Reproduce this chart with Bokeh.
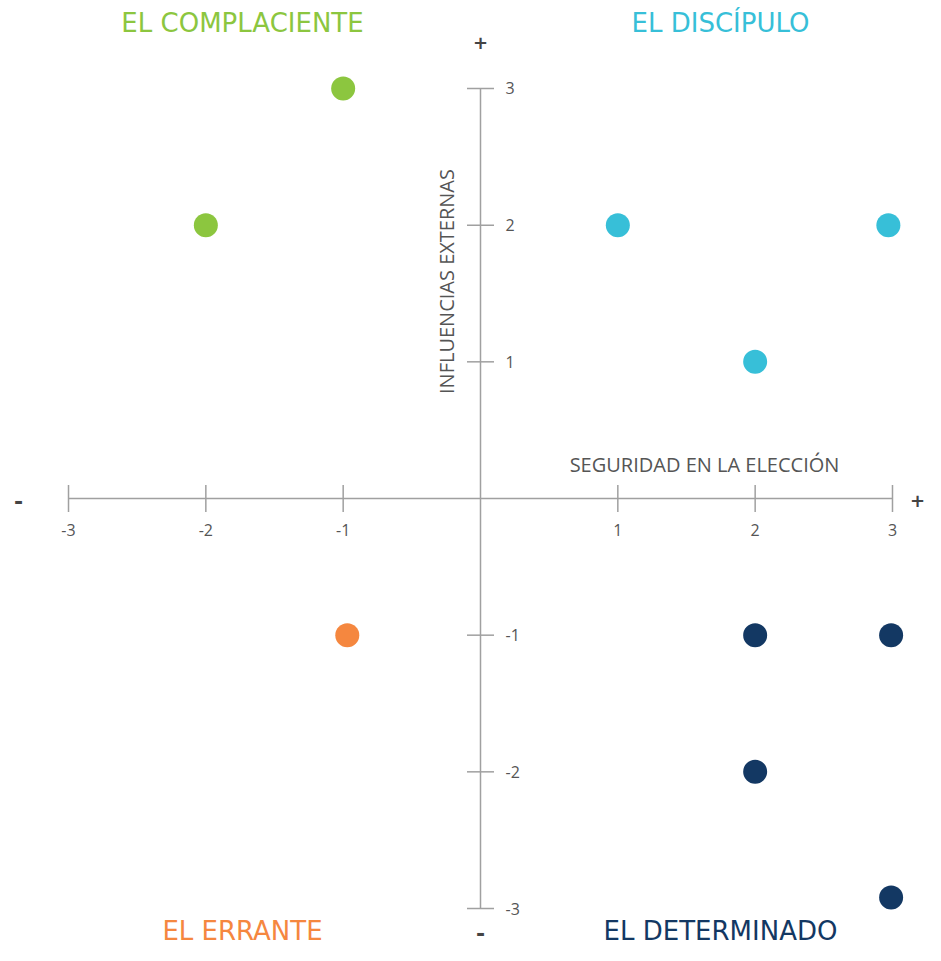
import math
from bokeh.plotting import figure
from bokeh.models import Range1d, ColumnDataSource, Label
from bokeh.core.properties import value
from bokeh.embed import file_html
from bokeh.resources import INLINE

# ---- data ----
ticks = [-3, -2, -1, 1, 2, 3]
tick_labels = ["-3", "-2", "-1", "1", "2", "3"]

complaciente_x = [-1, -2]
complaciente_y = [3, 2]
discipulo_x = [1, 2.97, 2]
discipulo_y = [2, 2, 1]
errante_x = [-0.97]
errante_y = [-1]
determinado_x = [2, 2.99, 2, 2.99]
determinado_y = [-1, -1, -2, -2.92]

quadrant_names = ["EL COMPLACIENTE", "EL DISCÍPULO", "EL ERRANTE", "EL DETERMINADO"]
x_title = "SEGURIDAD EN LA ELECCIÓN"
y_title = "INFLUENCIAS EXTERNAS"

GREEN = "#8cc63f"
CYAN = "#37bfd8"
ORANGE = "#f5873f"
NAVY = "#133863"
AXIS = "#a0a0a0"
TXT = "#555555"

W, H = 925, 945
X0, Y0, SX, SY = 480, 498, 137.33, 136.67
xs, xe = -X0 / SX, (W - X0) / SX
ys, ye = -(H - Y0) / SY, Y0 / SY

p = figure(width=W, height=H, x_range=Range1d(xs, xe), y_range=Range1d(ys, ye),
           x_axis_type=None, y_axis_type=None, output_backend="svg",
           toolbar_location=None, min_border=0)
p.grid.visible = False
p.outline_line_color = None
p.background_fill_color = "white"


def dx(px):
    return xs + px / W * (xe - xs)


def dy(py):
    return ye - py / H * (ye - ys)


# axes lines
p.segment(x0=[ticks[0]], y0=[0], x1=[ticks[-1]], y1=[0], line_color=AXIS, line_width=1.5)
p.segment(x0=[0], y0=[ticks[0]], x1=[0], y1=[ticks[-1]], line_color=AXIS, line_width=1.5)

# tick marks
p.scatter(x=ticks, y=[0] * len(ticks), marker="dash", size=27, angle=math.pi / 2,
          line_color=AXIS, line_width=1.5)
p.scatter(x=[0] * len(ticks), y=ticks, marker="dash", size=27,
          line_color=AXIS, line_width=1.5)

# tick labels
xt = ColumnDataSource(dict(x=ticks, y=[0] * len(ticks), t=tick_labels))
p.text(x="x", y="y", text="t", source=xt, y_offset=31, text_align="center",
       text_baseline="middle", text_font=value("Open Sans"), text_font_size="16px",
       text_color=TXT)
yt = ColumnDataSource(dict(x=[0] * len(ticks), y=ticks, t=tick_labels))
p.text(x="x", y="y", text="t", source=yt, x_offset=25, text_align="left",
       text_baseline="middle", text_font=value("Open Sans"), text_font_size="16px",
       text_color=TXT)

# points
p.scatter(complaciente_x, complaciente_y, size=24, fill_color=GREEN, line_color=None)
p.scatter(discipulo_x, discipulo_y, size=24, fill_color=CYAN, line_color=None)
p.scatter(errante_x, errante_y, size=24, fill_color=ORANGE, line_color=None)
p.scatter(determinado_x, determinado_y, size=24, fill_color=NAVY, line_color=None)

# quadrant titles
qpos = [(242, 22, GREEN), (720, 22, CYAN), (242, 930, ORANGE), (720, 930, NAVY)]
for name, (px, py, col) in zip(quadrant_names, qpos):
    p.add_layout(Label(x=dx(px), y=dy(py), text=name, text_align="center",
                       text_baseline="middle", text_font="DejaVu Sans",
                       text_font_size="26px", text_color=col))

# axis titles
p.add_layout(Label(x=dx(704), y=dy(464), text=x_title, text_align="center",
                   text_baseline="middle", text_font="Open Sans",
                   text_font_size="20px", text_color=TXT))
p.add_layout(Label(x=dx(446), y=dy(281), text=y_title, text_align="center",
                   text_baseline="middle", text_font="Open Sans", angle=math.pi / 2,
                   text_font_size="20px", text_color=TXT))

# plus / minus signs
for sym, px, py in [("+", 480, 42), ("-", 18, 500), ("+", 917, 500), ("-", 480, 932)]:
    p.add_layout(Label(x=dx(px), y=dy(py), text=sym, text_align="center",
                       text_baseline="middle", text_font="DejaVu Sans",
                       text_font_style="bold", text_font_size="22px" if sym == "-" else "18px",
                       text_color="#444444"))

open("out.html", "w").write(file_html(p, INLINE))
